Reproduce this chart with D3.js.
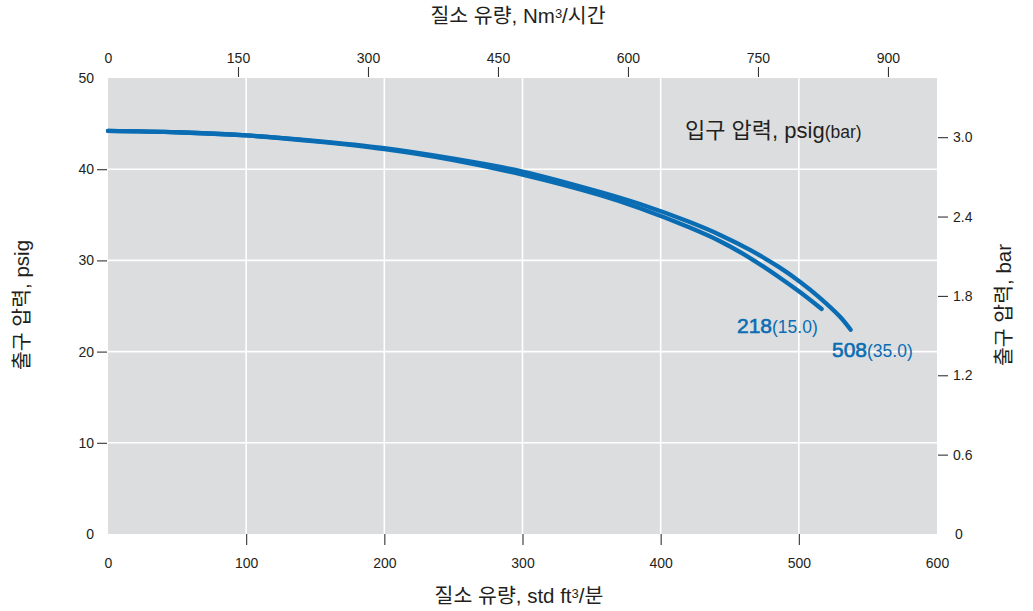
<!DOCTYPE html>
<html><head><meta charset="utf-8">
<script src="https://cdn.jsdelivr.net/npm/d3@7"></script>
<style>
body{margin:0;background:#fff;}
text{font-family:"Liberation Sans","Noto Sans CJK KR",Arial,sans-serif;fill:#231f20;}
</style></head><body>
<svg id="c" width="1033" height="611"></svg>
<script>
// ---- data ----
const flowHi = [0, 50, 100, 150, 200, 250, 300, 357, 385, 421, 443, 465, 486, 501, 515, 530, 537.5];
const outHi  = [44.2, 44.05, 43.7, 43.1, 42.3, 41.15, 39.75, 37.47, 36.18, 34.2, 32.79, 31.12, 29.23, 27.64, 25.93, 23.8, 22.4];
const flowLo = [0, 50, 100, 150, 200, 250, 300, 357, 385, 421, 443, 465, 486, 501, 516.5];
const outLo  = [44.2, 44.05, 43.7, 43.05, 42.2, 41.0, 39.4, 37.12, 35.72, 33.6, 32.1, 30.23, 28.13, 26.5, 24.67];
const bottomTicks = [0, 100, 200, 300, 400, 500, 600];
const topTicks = [0, 150, 300, 450, 600, 750, 900];
const leftTicks = [0, 10, 20, 30, 40, 50];
const rightTicks = [0, 0.6, 1.2, 1.8, 2.4, 3.0];
const seriesLabels = [["218", "(15.0)"], ["508", "(35.0)"]];

const svg = d3.select("#c");
const L = 108, R = 937, T = 78, B = 534;
const x = d3.scaleLinear().domain([0, 600]).range([L, R]);
const xTop = d3.scaleLinear().domain([0, 956.6]).range([L, R]);
const y = d3.scaleLinear().domain([0, 50]).range([B, T]);
const yBar = d3.scaleLinear().domain([0, 50 / 14.5038]).range([B, T]);
const blue = "#0a6db3";
const latin = "'Liberation Sans', Arial, sans-serif";

svg.append("rect").attr("x", L).attr("y", T).attr("width", R - L).attr("height", B - T).attr("fill", "#dcdddf");

// grid
svg.append("g").selectAll("line").data(bottomTicks.filter(d => d > 0 && d < 600)).join("line")
  .attr("x1", d => x(d)).attr("x2", d => x(d)).attr("y1", T).attr("y2", B)
  .attr("stroke", "#fff").attr("stroke-width", 1.6);
svg.append("g").selectAll("line").data(leftTicks.filter(d => d > 0 && d < 50)).join("line")
  .attr("y1", d => y(d)).attr("y2", d => y(d)).attr("x1", L).attr("x2", R)
  .attr("stroke", "#fff").attr("stroke-width", 1.6);

function styleAxis(g, noTick) {
  g.select(".domain").remove();
  g.selectAll(".tick line").attr("stroke", "#333").attr("stroke-width", 1.1);
  g.selectAll(".tick text").attr("font-size", 14).attr("fill", "#231f20").attr("font-family", latin);
  g.selectAll(".tick").filter(noTick).select("line").remove();
}

const gB = svg.append("g").attr("transform", `translate(0,${B})`)
  .call(d3.axisBottom(x).tickValues(bottomTicks).tickSize(11).tickPadding(13).tickFormat(d3.format("d")));
styleAxis(gB, d => d === 0 || d === 600);

const gT = svg.append("g").attr("transform", `translate(0,${T - 1})`)
  .call(d3.axisTop(xTop).tickValues(topTicks).tickSize(10).tickPadding(4).tickFormat(d3.format("d")));
styleAxis(gT, d => d === 0);
gT.selectAll(".tick").filter(d => d === 0).select("text").attr("y", -14);

const gL = svg.append("g").attr("transform", `translate(${L - 1},0)`)
  .call(d3.axisLeft(y).tickValues(leftTicks).tickSize(10).tickPadding(3).tickFormat(d3.format("d")));
styleAxis(gL, d => d === 0 || d === 50);
gL.selectAll(".tick").filter(d => d === 0 || d === 50).select("text").attr("x", -13);

const gR = svg.append("g").attr("transform", `translate(${R + 1},0)`)
  .call(d3.axisRight(yBar).tickValues(rightTicks).tickSize(10).tickPadding(5)
    .tickFormat(d => d === 0 ? "0" : d3.format(".1f")(d)));
styleAxis(gR, d => d === 0);
gR.selectAll(".tick").filter(d => d === 0).select("text").attr("x", 17);

// curves
const line = d3.line().x(d => x(d[0])).y(d => y(d[1])).curve(d3.curveCatmullRom.alpha(0.5));
const curves = [d3.zip(flowLo, outLo), d3.zip(flowHi, outHi)];
svg.append("g").selectAll("path").data(curves).join("path")
  .attr("d", line).attr("fill", "none").attr("stroke", blue)
  .attr("stroke-width", 4.3).attr("stroke-linecap", "round");

// series labels
const labPos = [[737, 333], [832, 357]];
seriesLabels.forEach((s, i) => {
  const t = svg.append("text").attr("x", labPos[i][0]).attr("y", labPos[i][1]).attr("font-family", latin);
  t.append("tspan").text(s[0]).attr("font-size", 21).attr("fill", blue)
    .attr("stroke", blue).attr("stroke-width", 0.6);
  t.append("tspan").text(s[1]).attr("font-size", 17.5).attr("fill", blue);
});

// legend title
const lg = svg.append("text").attr("x", 685).attr("y", 138).attr("font-size", 22);
lg.append("tspan").text("입구 압력, psig");
lg.append("tspan").text("(bar)").attr("font-size", 17.5).attr("font-family", latin);

// axis titles
const tt = svg.append("text").attr("x", 518).attr("y", 23).attr("text-anchor", "middle").attr("font-size", 20.5);
tt.append("tspan").text("질소 유량, Nm");
tt.append("tspan").text("3").attr("font-size", 13).attr("dy", -5);
tt.append("tspan").text("/시간").attr("dy", 5);

const bt = svg.append("text").attr("x", 519).attr("y", 603).attr("text-anchor", "middle").attr("font-size", 20.5);
bt.append("tspan").text("질소 유량, std ft");
bt.append("tspan").text("3").attr("font-size", 13).attr("dy", -5);
bt.append("tspan").text("/분").attr("dy", 5);

svg.append("text").attr("transform", "translate(29,305) rotate(-90)").attr("text-anchor", "middle")
  .attr("font-size", 20.5).text("출구 압력, psig");
svg.append("text").attr("transform", "translate(1011,305) rotate(-90)").attr("text-anchor", "middle")
  .attr("font-size", 20.5).text("출구 압력, bar");
</script></body></html>
